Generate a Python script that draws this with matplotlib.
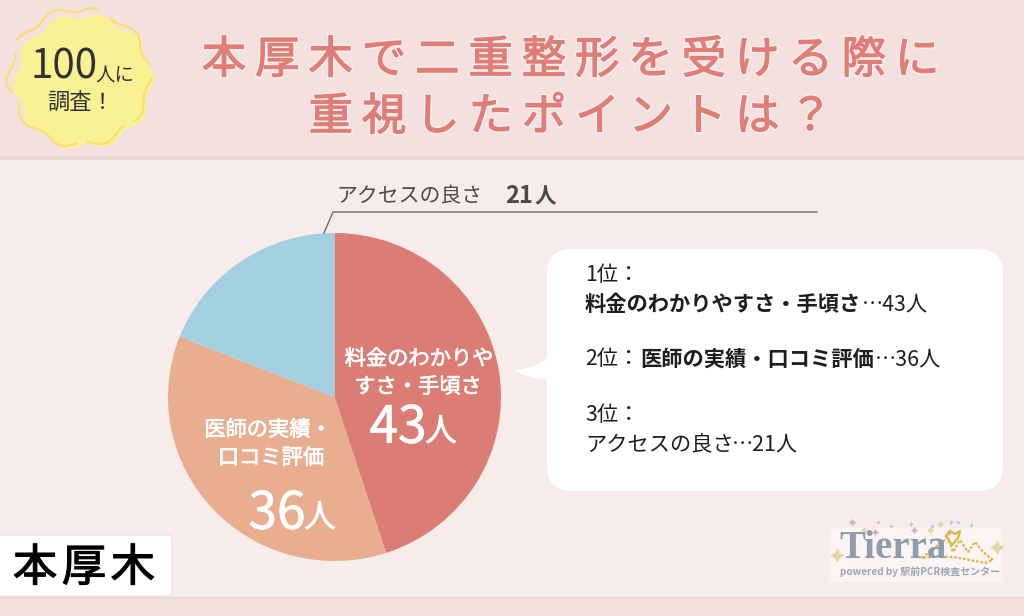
import numpy as np
import matplotlib
matplotlib.use("Agg")
import matplotlib.pyplot as plt
import matplotlib.patheffects as pe
from matplotlib.patches import Rectangle, FancyBboxPatch, Polygon

plt.rcParams['font.family'] = ['Noto Sans CJK JP', 'DejaVu Sans']

categories = ["料金のわかりやすさ・手頃さ", "医師の実績・口コミ評価", "アクセスの良さ"]
counts = [43, 36, 21]
slice_shares = [45, 36, 19]   # angular shares as drawn in the picture
colors = ["#DB7C75", "#E9AE90", "#A2D0E0"]
title_lines = ["本厚木で二重整形を受ける際に", "重視したポイントは？"]
area_label = "本厚木"

W, H = 1024, 616
THIN, HAIR = "\u2009", "\u200a"
fig = plt.figure(figsize=(W/100, H/100), dpi=100)


def canvas():
    ax = fig.add_axes([0, 0, 1, 1])
    ax.set_xlim(0, W); ax.set_ylim(H, 0); ax.axis('off')
    ax.patch.set_alpha(0)
    return ax


def thick(color, width, halo=None):
    """Slightly heavier than Regular, since the font has no usable Medium here."""
    fx = []
    if halo:
        fx.append(pe.Stroke(linewidth=width + 2, foreground=halo))
    fx.append(pe.Stroke(linewidth=width, foreground=color))
    fx.append(pe.Normal())
    return fx


bg = canvas()
bg.add_patch(Rectangle((0, 0), W, H, fc="#F5E0E0", ec='none'))
bg.add_patch(Rectangle((0, 160), W, 437, fc="#F8ECEB", ec='none'))
bg.add_patch(Rectangle((0, 156), W, 4, fc="#EBD5D5", ec='none'))
bg.add_patch(Rectangle((0, 597), W, 2, fc="#F0D9D9", ec='none'))

# pie, through matplotlib's own pie
pie_ax = fig.add_axes([168/W, 1 - 561/H, 333/W, 328/H])
pie_ax.pie(slice_shares, colors=colors, startangle=90, counterclock=False, radius=1)
pie_ax.set_aspect('auto')
pie_ax.set_xlim(-1, 1); pie_ax.set_ylim(-1, 1)

ov = canvas()

# title
for line, y in zip(title_lines, [60, 117]):
    ov.text(571, y, THIN.join(line), color="#DF7D77", fontsize=32, ha='center', va='center',
            path_effects=thick("#DF7D77", 0.9, halo="#FAEFEF"))

# badge
t = np.linspace(0, 2*np.pi, 500)
r = 68 + 3*np.cos(10*t + 0.6)
ov.fill(83.5 + r*np.cos(t), 81.5 + 0.97*r*np.sin(t), fc="#F9F295", ec='none')
r2 = 70 + 3*np.cos(10*t + 0.6)
x2 = 79.5 + r2*np.cos(t); y2 = 77 + 0.97*r2*np.sin(t)
for a, b in [(0.02, 0.68), (0.85, 1.45), (1.62, 2.72), (2.9, 3.5), (3.7, 4.98), (5.2, 6.1)]:
    m = (t >= a) & (t <= b)
    ov.plot(x2[m], y2[m], color="#F9DF6C", lw=1.6)
ov.text(64, 67, "100", color="#333333", fontsize=29, ha='center', va='center')
ov.text(115, 76, "人に", color="#333333", fontsize=14, ha='center', va='center')
ov.text(81, 102, "調査！", color="#333333", fontsize=16, ha='center', va='center')

# pie labels
LB = dict(color="white", ha='center', va='center')
LW = thick("white", 0.5)
ov.text(419, 359, "料金のわかりや", fontsize=15.3, path_effects=LW, **LB)
ov.text(418, 387, "すさ・手頃さ", fontsize=15.3, path_effects=LW, **LB)
ov.text(398, 428, f"{counts[0]}", fontsize=37, path_effects=LW, **LB)
ov.text(441, 432, "人", fontsize=23, path_effects=LW, **LB)
ov.text(268, 430, "医師の実績・", fontsize=15.3, path_effects=LW, **LB)
ov.text(271, 458, "口コミ評価", fontsize=15.3, path_effects=LW, **LB)
ov.text(277, 514, f"{counts[1]}", fontsize=37, path_effects=LW, **LB)
ov.text(320, 518, "人", fontsize=23, path_effects=LW, **LB)

# leader
ov.plot([324, 333, 817], [233, 212, 212], color="#6E6E6E", lw=1)
ov.text(336, 196, categories[2], color="#4A4A4A", fontsize=15, ha='left', va='center')
ov.text(505, 196, f"{counts[2]}", color="#4A4A4A", fontsize=17, ha='left', va='center', fontweight='bold')
ov.text(534, 197, "人", color="#4A4A4A", fontsize=15.5, ha='left', va='center', fontweight='bold')

# callout
ov.add_patch(FancyBboxPatch((547, 249), 456, 242, boxstyle="round,pad=0,rounding_size=25", fc="white", ec='none'))
u = np.linspace(0, 1, 20)
top_x = (1-u)**2*514 + 2*u*(1-u)*532 + u**2*548
top_y = (1-u)**2*370 + 2*u*(1-u)*370 + u**2*357
bot_x = (1-u)**2*548 + 2*u*(1-u)*530 + u**2*514
bot_y = (1-u)**2*379 + 2*u*(1-u)*379 + u**2*370
ov.add_patch(Polygon(np.c_[np.r_[top_x, bot_x], np.r_[top_y, bot_y]], closed=True, fc="white", ec='none'))

TC = dict(color="#1E1E1E", fontsize=15.3, ha='left', va='center')
ov.text(585, 275, "1位：", **TC)
ov.text(585, 304, categories[0], fontweight='bold', **TC)
ov.text(862, 304, f"…{counts[0]}人", **TC)
ov.text(585, 359, "2位：", **TC)
ov.text(640, 359, categories[1], fontweight='bold', **TC)
ov.text(875, 359, f"…{counts[1]}人", **TC)
ov.text(585, 415, "3位：", **TC)
ov.text(585, 444, categories[2], **TC)
ov.text(732, 444, f"…{counts[2]}人", **TC)

# area label
ov.add_patch(FancyBboxPatch((-10, 535), 182, 61, boxstyle="round,pad=0,rounding_size=4",
                            fc="white", ec="#E8DDE3", lw=0.8))
ov.text(84, 568, HAIR.join(area_label), color="black", fontsize=32, ha='center', va='center',
        path_effects=thick("black", 0.8))

# logo
ov.add_patch(FancyBboxPatch((830, 528), 172, 54, boxstyle="round,pad=0,rounding_size=6", fc="#FBF4F2", ec='none'))
ov.text(839, 549, "Tierra", color="#8E9DAE", fontsize=28, fontweight='bold', ha='left', va='center',
        fontfamily=['Liberation Serif'])
ov.text(840, 572, "powered by 駅前PCR検査センター", color="#9AA7B7", fontsize=7.2, fontweight='bold',
        ha='left', va='center')
# sparkles
ov.scatter([864, 930, 940], [530, 530, 524], marker=(4, 1, 0), s=30, color="#E6D5A5", lw=0)
ov.scatter([837, 997], [555, 547], marker=(4, 1, 0), s=110, color="#E6D5A5", lw=0)
ov.scatter([852, 875, 914, 949], [522, 532, 530, 532], marker=(4, 1, 0), s=28, color="#D9A9C3", lw=0)
ov.scatter([878, 891, 911, 932, 951, 958, 971], [522, 526, 524, 526, 522, 522, 525], marker=(4, 1, 0),
           s=12, color="#9CD3E6", lw=0)
# tiara
ov.plot([922, 938, 948, 953, 960, 968, 975, 983, 993, 985, 960, 940, 922],
        [558, 545, 538, 552, 540, 552, 542, 552, 560, 563, 558, 556, 558],
        color="#D8B84A", lw=1.6, ls=(0, (1.2, 0.8)))
ov.plot([946, 950, 955, 960, 958, 952, 946], [536, 531, 534, 531, 538, 545, 536], color="#D8B84A", lw=1.6)

fig.savefig("out.png", dpi=100)
